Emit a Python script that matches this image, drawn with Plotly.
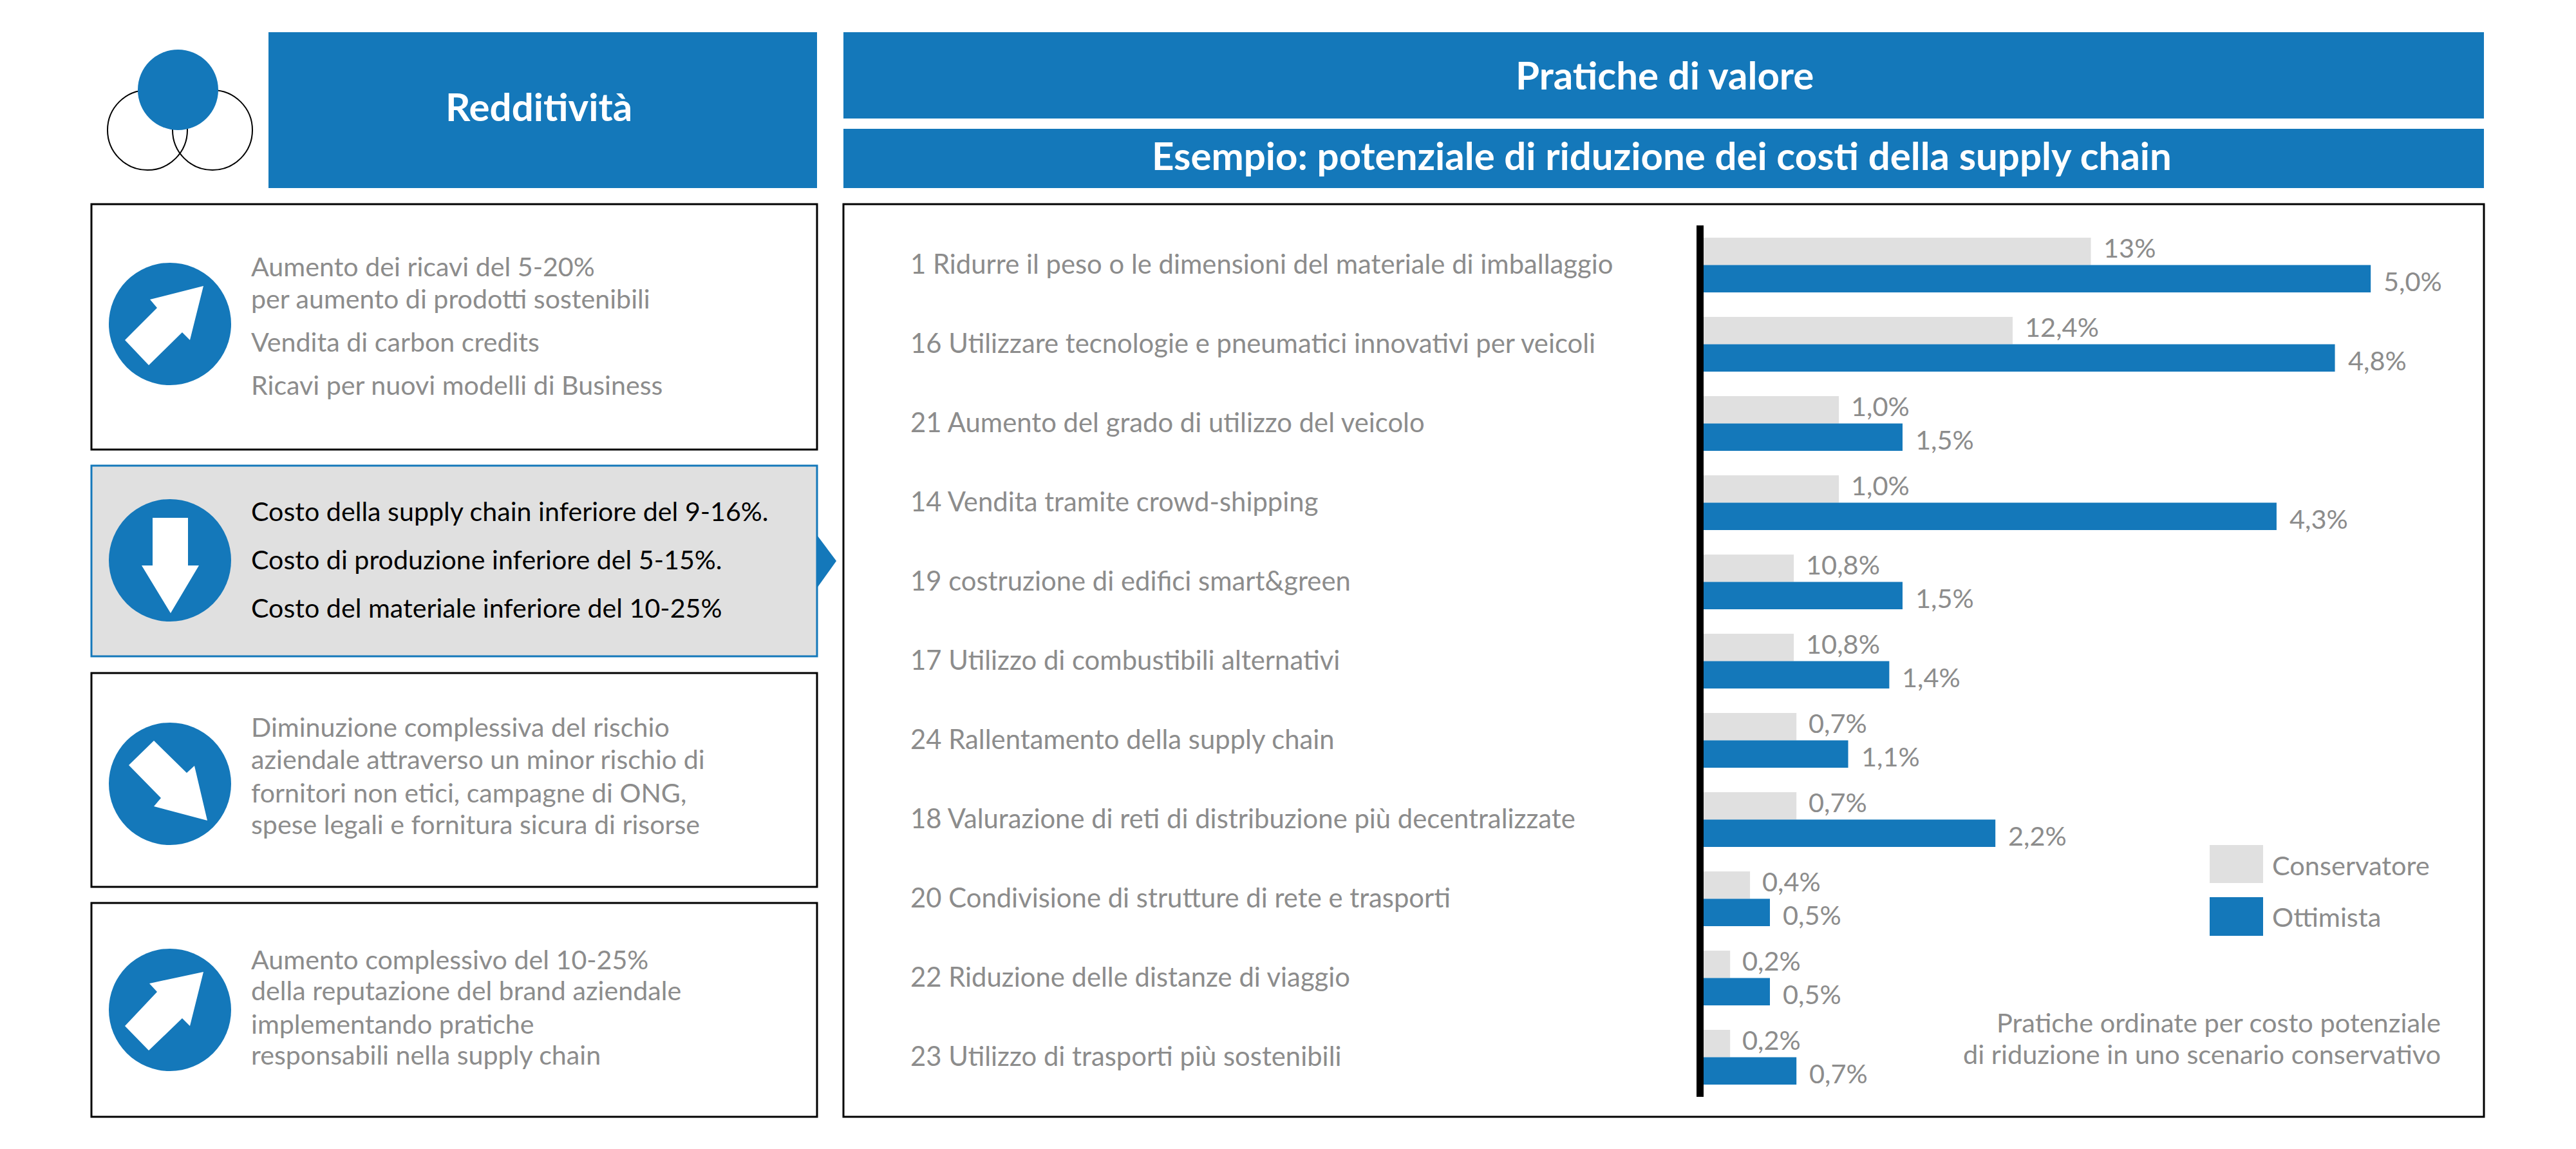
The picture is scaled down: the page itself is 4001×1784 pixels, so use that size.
import plotly.graph_objects as go

W, H = 4001, 1784
BLUE = "#1478BA"
GREY = "#E0E0E0"
TEXT = "#8C8C8C"
FONT = "Lato"

practices = [
    "1 Ridurre il peso o le dimensioni del materiale di imballaggio",
    "16 Utilizzare tecnologie e pneumatici innovativi per veicoli",
    "21 Aumento del grado di utilizzo del veicolo",
    "14 Vendita tramite crowd-shipping",
    "19 costruzione di edifici smart&green",
    "17 Utilizzo di combustibili alternativi",
    "24 Rallentamento della supply chain",
    "18 Valurazione di reti di distribuzione più decentralizzate",
    "20 Condivisione di strutture di rete e trasporti",
    "22 Riduzione delle distanze di viaggio",
    "23 Utilizzo di trasporti più sostenibili",
]
conservatore = [2.92, 2.33, 1.02, 1.02, 0.68, 0.68, 0.7, 0.7, 0.35, 0.2, 0.2]
ottimista = [5.03, 4.76, 1.5, 4.32, 1.5, 1.4, 1.09, 2.2, 0.5, 0.5, 0.7]
conservatore_labels = ["13%", "12,4%", "1,0%", "1,0%", "10,8%", "10,8%", "0,7%", "0,7%", "0,4%", "0,2%", "0,2%"]
ottimista_labels = ["5,0%", "4,8%", "1,5%", "4,3%", "1,5%", "1,4%", "1,1%", "2,2%", "0,5%", "0,5%", "0,7%"]

box_texts = [
    [("Aumento dei ricavi del 5-20%", 413), ("per aumento di prodotti sostenibili", 463),
     ("Vendita di carbon credits", 530), ("Ricavi per nuovi modelli di Business", 597)],
    [("Costo della supply chain inferiore del 9-16%.", 793), ("Costo di produzione inferiore del 5-15%.", 868),
     ("Costo del materiale inferiore del 10-25%", 943)],
    [("Diminuzione complessiva del rischio", 1128), ("aziendale attraverso un minor rischio di", 1178),
     ("fornitori non etici, campagne di ONG,", 1230), ("spese legali e fornitura sicura di risorse", 1279)],
    [("Aumento complessivo del 10-25%", 1489), ("della reputazione del brand aziendale", 1537),
     ("implementando pratiche", 1589), ("responsabili nella supply chain", 1637)],
]


def px(x):
    return x / W


def py(y):
    return 1 - y / H


def rect(x0, y0, x1, y1, fill="rgba(0,0,0,0)", line=None, lw=0):
    return dict(type="rect", xref="paper", yref="paper", x0=px(x0), x1=px(x1), y0=py(y1), y1=py(y0),
                fillcolor=fill, line=dict(color=line or fill, width=lw), layer="below")


def circle(cx, cy, r, fill="rgba(0,0,0,0)", line=None, lw=0, layer="above"):
    return dict(type="circle", xref="paper", yref="paper", x0=px(cx - r), x1=px(cx + r), y0=py(cy + r),
                y1=py(cy - r), fillcolor=fill, line=dict(color=line or fill, width=lw), layer=layer)


def poly(points, fill):
    path = "M " + " L ".join(f"{px(x):.5f},{py(y):.5f}" for x, y in points) + " Z"
    return dict(type="path", xref="paper", yref="paper", path=path, fillcolor=fill, line=dict(width=0), layer="above")


def label(x, y, text, size=41.5, color=TEXT, anchor="left", weight=400):
    return dict(xref="paper", yref="paper", x=px(x), y=py(y), text=text, showarrow=False, xanchor=anchor,
                yanchor="middle", font=dict(family=FONT, size=size, color=color, weight=weight))


fig = go.Figure()
fig.add_bar(y=practices, x=conservatore, name="Conservatore", orientation="h", marker=dict(color=GREY, line=dict(width=0)))
fig.add_bar(y=practices, x=ottimista, name="Ottimista", orientation="h", marker=dict(color=BLUE, line=dict(width=0)))

shapes = [
    rect(417, 50, 1269, 292, BLUE),
    rect(1310, 50, 3858, 184, BLUE),
    rect(1310, 200, 3858, 292, BLUE),
    rect(142, 317, 1269, 698, "white", "black", 3),
    rect(142, 723, 1269, 1019, GREY, BLUE, 3),
    rect(142, 1045, 1269, 1377, "white", "black", 3),
    rect(142, 1402, 1269, 1734, "white", "black", 3),
    rect(1310, 317, 3858, 1734, "white", "black", 3),
    circle(229, 202, 62, line="black", lw=2),
    circle(330, 202, 62, line="black", lw=2),
    circle(276.5, 139.5, 62.5, BLUE),
    circle(264, 503, 95, BLUE),
    circle(264, 870, 95, BLUE),
    circle(264, 1217, 95, BLUE),
    circle(264, 1568, 95, BLUE),
    poly([(1269, 831), (1299, 871), (1269, 913)], BLUE),
    poly([(316, 444), (233, 465), (244, 478), (194, 528), (231, 567), (283, 516), (295, 528)], "white"),
    poly([(237, 804), (292, 804), (292, 878), (309, 878), (265, 952), (220, 878), (237, 878)], "white"),
    poly([(239, 1150), (200, 1188), (250, 1239), (239, 1252), (322, 1274), (302, 1189), (290, 1200)], "white"),
    poly([(316, 1509), (232, 1527), (244, 1540), (194, 1593), (231, 1631), (283, 1581), (295, 1593)], "white"),
    rect(3432, 1312, 3515, 1371, GREY),
    rect(3432, 1393, 3515, 1453, BLUE),
]

annotations = [
    label(837, 165, "Redditività", 60, "white", "center", 700),
    label(2585, 116, "Pratiche di valore", 60, "white", "center", 700),
    label(2581, 241, "Esempio: potenziale di riduzione dei costi della supply chain", 60, "white", "center", 700),
    label(3527, 1343, "Conservatore"),
    label(3527, 1423, "Ottimista"),
    label(3793, 1587, "Pratiche ordinate per costo potenziale", anchor="right"),
    label(3793, 1636, "di riduzione in uno scenario conservativo", anchor="right"),
]

for i, lines in enumerate(box_texts):
    for text, y in lines:
        annotations.append(label(388, y, text, 41.2, "black" if i == 1 else TEXT))

for name, cv, cl, ov, ol in zip(practices, conservatore, conservatore_labels, ottimista, ottimista_labels):
    annotations.append(dict(xref="paper", yref="y", x=px(1412), y=name, text=name, showarrow=False, xanchor="left",
                            yanchor="middle", yshift=3, font=dict(family=FONT, size=41.8, color=TEXT)))
    annotations.append(dict(xref="x", yref="y", x=cv, y=name, text=cl, showarrow=False, xanchor="left", xshift=17,
                            yanchor="middle", yshift=28, font=dict(family=FONT, size=41.5, color=TEXT)))
    annotations.append(dict(xref="x", yref="y", x=ov, y=name, text=ol, showarrow=False, xanchor="left", xshift=18,
                            yanchor="middle", yshift=-24, font=dict(family=FONT, size=41.5, color=TEXT)))

fig.update_layout(
    width=W, height=H, margin=dict(l=0, r=0, t=0, b=0), paper_bgcolor="white", plot_bgcolor="rgba(0,0,0,0)",
    barmode="group", bargap=0.31, bargroupgap=0, showlegend=False,
    shapes=shapes, annotations=annotations,
    xaxis=dict(domain=[px(2646), px(3858)], range=[0, (3858 - 2646) / 206], visible=False),
    yaxis=dict(domain=[py(1703), py(350)], autorange="reversed", showticklabels=False, showgrid=False, ticks="",
               showline=True, linecolor="black", linewidth=11, zeroline=False),
)
fig.write_html("out.html", config={"displayModeBar": False},
               post_script="document.body.style.margin='0';document.documentElement.style.overflow='hidden';")
